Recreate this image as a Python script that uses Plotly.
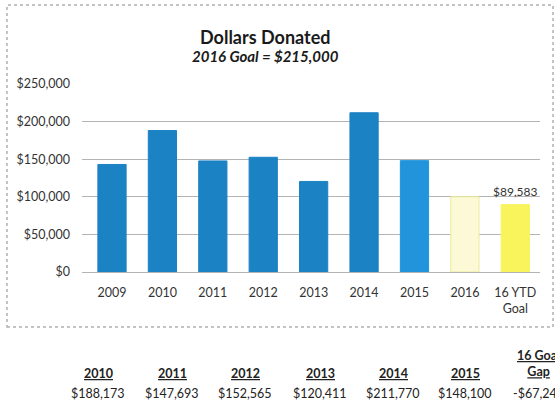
import plotly.graph_objects as go

# ---- data ----
categories = ["2009", "2010", "2011", "2012", "2013", "2014", "2015", "2016", "16 YTD<br>Goal"]
donated = [143000, 188173, 147693, 152565, 120411, 211770, 148100, 100000, 89583]
bar_colors = ["#1b82c4", "#1b82c4", "#1b82c4", "#1b82c4", "#1b82c4", "#1b82c4", "#2194dc", "#fcfad6", "#f9f35c"]
bar_lines = ["#1b82c4", "#1b82c4", "#1b82c4", "#1b82c4", "#1b82c4", "#1b82c4", "#2194dc", "#eeea9a", "#f9f35c"]
label_index = 8
label_text = "$89,583"

y_ticks = [0, 50000, 100000, 150000, 200000, 250000]
y_ticklabels = ["$0", "$50,000", "$100,000", "$150,000", "$200,000", "$250,000"]

table_headers = ["2010", "2011", "2012", "2013", "2014", "2015", "16 Goal<br>Gap"]
table_values = ["$188,173", "$147,693", "$152,565", "$120,411", "$211,770", "$148,100", "-$67,245"]

FONT = "Lato"
W, H = 555, 404
L, R, T, B = 82, 15, 84, 132
PW, PH = W - L - R, H - T - B


def px(x):
    return (x - L) / PW


def py(y):
    return (H - B - y) / PH


fig = go.Figure()
fig.add_trace(go.Bar(
    x=list(range(len(categories))),
    y=donated,
    width=0.56,
    marker=dict(color=bar_colors, line=dict(color=bar_lines, width=1)),
    cliponaxis=False,
))

# value label above the YTD bar (sits just above the $100,000 gridline)
fig.add_annotation(x=label_index, y=donated[label_index], text=label_text,
                   xref="x", yref="y", showarrow=False, xanchor="center", yanchor="bottom",
                   yshift=4, font=dict(family=FONT, size=12, color="#333333"))

fig.update_layout(
    width=W, height=H,
    margin=dict(l=L, r=R, t=T, b=B),
    paper_bgcolor="white", plot_bgcolor="white",
    showlegend=False,
    font=dict(family=FONT, size=12, color="#333333"),
    xaxis=dict(
        tickmode="array", tickvals=list(range(len(categories))), ticktext=categories,
        range=[-0.595, 8.49], showgrid=False, zeroline=False, showline=False,
        ticks="", ticklabelstandoff=11,
        tickfont=dict(family=FONT, size=12.5, color="#333333"),
    ),
    yaxis=dict(
        tickmode="array", tickvals=y_ticks, ticktext=y_ticklabels,
        range=[0, 250000], showgrid=True, gridcolor="#b4b4b4", gridwidth=1,
        zeroline=True, zerolinecolor="#b4b4b4", zerolinewidth=1, showline=False,
        ticks="", ticklabelstandoff=11,
        tickfont=dict(family=FONT, size=12.5, color="#333333"),
    ),
)

# chart border (dotted, like a photocopied Excel chart frame)
fig.add_shape(type="rect", xref="paper", yref="paper",
              x0=px(7), x1=px(553), y0=py(327), y1=py(5),
              line=dict(color="#b0b0b0", width=1.5, dash="dot"), layer="below")

# titles
fig.add_annotation(text="<b>Dollars Donated</b>", xref="paper", yref="paper",
                   x=px(265), y=py(37), xanchor="center", yanchor="middle", showarrow=False,
                   font=dict(family=FONT, size=18, color="#1a1a1a"))
fig.add_annotation(text="<b><i>2016 Goal = $215,000</i></b>", xref="paper", yref="paper",
                   x=px(265), y=py(56), xanchor="center", yanchor="middle", showarrow=False,
                   font=dict(family=FONT, size=15, color="#1a1a1a"))

# table below the chart
col_x = [98, 172, 245, 320, 393, 465, 538]
for i, (hd, val) in enumerate(zip(table_headers, table_values)):
    if "<br>" in hd:
        htxt = "<br>".join(f"<u>{p}</u>" for p in hd.split("<br>"))
        hy = 363
    else:
        htxt = f"<u>{hd}</u>"
        hy = 373
    fig.add_annotation(text=f"<b>{htxt}</b>", xref="paper", yref="paper",
                       x=px(col_x[i]), y=py(hy), xanchor="center", yanchor="middle",
                       showarrow=False,
                       font=dict(family=FONT, size=12.5, color="#222222"))
    fig.add_annotation(text=val, xref="paper", yref="paper",
                       x=px(col_x[i]), y=py(393), xanchor="center", yanchor="middle",
                       showarrow=False,
                       font=dict(family=FONT, size=12.5, color="#222222"))

fig.write_html("out.html")
